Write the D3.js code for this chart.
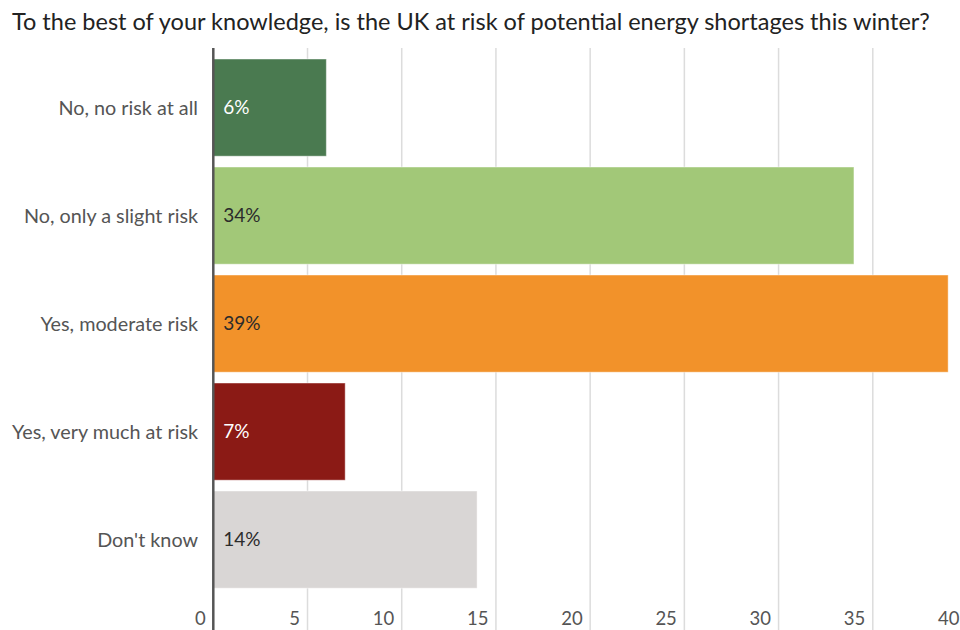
<!DOCTYPE html>
<html>
<head>
<meta charset="utf-8">
<script src="https://cdn.jsdelivr.net/npm/d3@7"></script>
<style>
  html, body { margin: 0; padding: 0; background: #fff; }
  svg { display: block; font-family: Lato, "Noto Sans", sans-serif; }
</style>
</head>
<body>
<svg id="chart" width="960" height="630"></svg>
<script>
// Survey answers, percentages and bar colours
const categories = ["No, no risk at all", "No, only a slight risk", "Yes, moderate risk", "Yes, very much at risk", "Don't know"];
const values = [6, 34, 39, 7, 14];
const colors = ["#4a7a50", "#a2c878", "#f2922a", "#8b1a15", "#d9d6d5"];
const labelColors = ["#ffffff", "#2b2b2b", "#2b2b2b", "#ffffff", "#2b2b2b"];
const tickValues = [0, 5, 10, 15, 20, 25, 30, 35, 40];
const title = "To the best of your knowledge, is the UK at risk of potential energy shortages this winter?";

const svg = d3.select("#chart");
const W = 960, H = 630;
const plotLeft = 213.3, plotRight = 967;
const plotTop = 48, plotBottom = 630;

const x = d3.scaleLinear().domain([0, 40]).range([plotLeft, plotRight]);
const y = d3.scaleBand().domain(categories).range([53.6, 593.6])
  .paddingInner(0.1).paddingOuter(0.05);

// Title
svg.append("text")
  .attr("x", 12).attr("y", 29.5)
  .attr("font-size", 23.5)
  .attr("fill", "#222")
  .text(title);

// Vertical gridlines
svg.append("g").selectAll("line")
  .data(tickValues.filter(d => d > 0))
  .join("line")
  .attr("x1", d => x(d)).attr("x2", d => x(d))
  .attr("y1", plotTop).attr("y2", plotBottom)
  .attr("stroke", "#dcdcdc").attr("stroke-width", 1.5);

// Bars
const data = categories.map((c, i) => ({ c, v: values[i], color: colors[i], lc: labelColors[i] }));
svg.append("g").selectAll("rect")
  .data(data)
  .join("rect")
  .attr("x", x(0))
  .attr("y", d => y(d.c))
  .attr("width", d => x(d.v) - x(0))
  .attr("height", y.bandwidth())
  .attr("fill", d => d.color)
  .attr("stroke", "rgba(255,255,255,0.45)")
  .attr("stroke-width", 1);

// Value labels inside bars
svg.append("g").selectAll("text")
  .data(data)
  .join("text")
  .attr("x", x(0) + 10)
  .attr("y", d => y(d.c) + y.bandwidth() / 2 + 6.5)
  .attr("font-size", 19)
  .attr("fill", d => d.lc)
  .text(d => d.v + "%");

// Category labels
svg.append("g").selectAll("text")
  .data(categories)
  .join("text")
  .attr("x", 198)
  .attr("y", d => y(d) + y.bandwidth() / 2 + 7)
  .attr("text-anchor", "end")
  .attr("font-size", 19.8)
  .attr("fill", "#555")
  .text(d => d);

// Zero axis line
svg.append("line")
  .attr("x1", x(0)).attr("x2", x(0))
  .attr("y1", plotTop).attr("y2", H)
  .attr("stroke", "#555").attr("stroke-width", 2.5);

// Tick labels, right-aligned just left of each gridline
const xAxis = d3.axisBottom(x).tickValues(tickValues).tickSize(0).tickFormat(d3.format("d"));
const gx = svg.append("g").attr("transform", `translate(0, ${H - 24})`).call(xAxis);
gx.select(".domain").remove();
gx.selectAll("text")
  .attr("text-anchor", "end")
  .attr("dx", -8)
  .attr("dy", 0)
  .attr("y", 19)
  .attr("font-size", 18.5)
  .attr("font-family", "Lato, 'Noto Sans', sans-serif")
  .attr("fill", "#555");
</script>
</body>
</html>
